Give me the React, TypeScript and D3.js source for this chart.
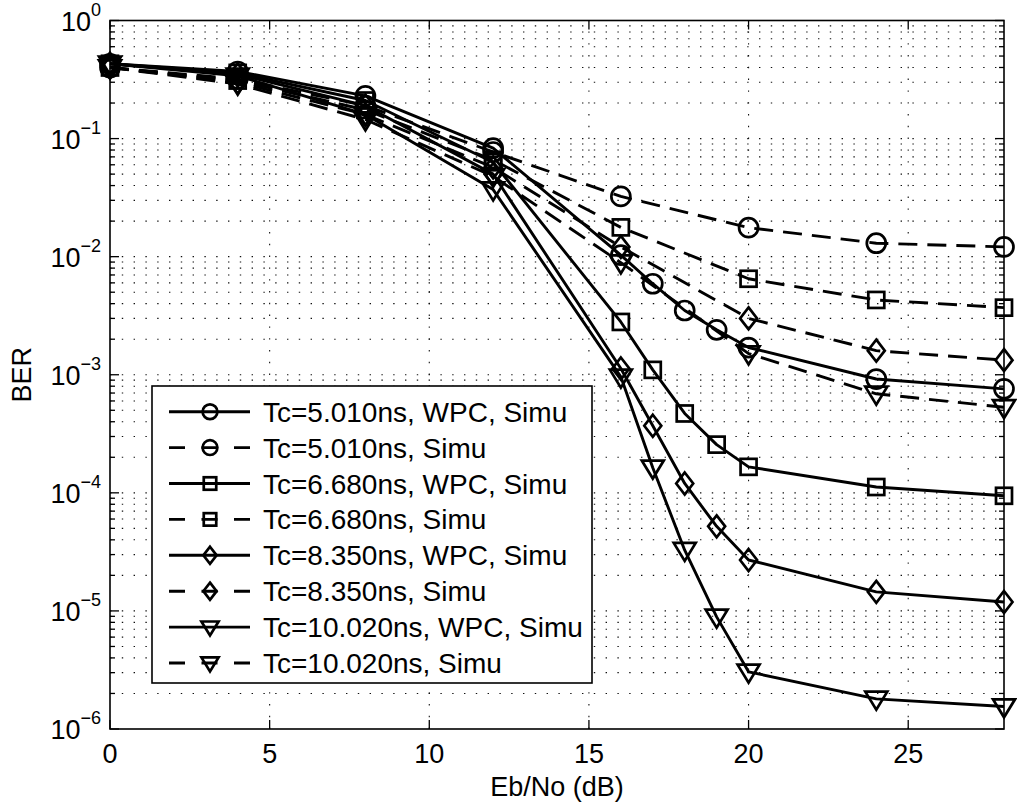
import React from "react";
import * as d3 from "d3";

const xWPC = [0, 4, 8, 12, 16, 17, 18, 19, 20, 24, 28];
const xSimu = [0, 4, 8, 12, 16, 20, 24, 28];

const wpc5010 = [0.43, 0.37, 0.23, 0.083, 0.0103, 0.0059, 0.0035, 0.0024, 0.0017, 0.00092, 0.00076];
const wpc6680 = [0.43, 0.36, 0.21, 0.063, 0.0028, 0.0011, 0.00047, 0.000256, 0.000166, 0.000112, 0.0000944];
const wpc8350 = [0.43, 0.35, 0.19, 0.05, 0.00113, 0.00037, 0.00012, 0.000052, 0.000027, 0.0000145, 0.0000119];
const wpc10020 = [0.43, 0.34, 0.16, 0.037, 0.00096, 0.000163, 0.0000327, 0.0000089, 0.00000305, 0.0000018, 0.00000155];

const simu5010 = [0.4, 0.32, 0.19, 0.077, 0.0324, 0.0176, 0.013, 0.0121];
const simu6680 = [0.4, 0.31, 0.175, 0.066, 0.0177, 0.0065, 0.0043, 0.0037];
const simu8350 = [0.4, 0.3, 0.16, 0.057, 0.0121, 0.003, 0.0016, 0.00133];
const simu10020 = [0.4, 0.29, 0.145, 0.048, 0.0089, 0.00151, 0.00069, 0.00053];

const xTicks = [0, 5, 10, 15, 20, 25];
const yExponents = [0, -1, -2, -3, -4, -5, -6];

const legendLabels = [
  "Tc=5.010ns, WPC, Simu",
  "Tc=5.010ns, Simu",
  "Tc=6.680ns, WPC, Simu",
  "Tc=6.680ns, Simu",
  "Tc=8.350ns, WPC, Simu",
  "Tc=8.350ns, Simu",
  "Tc=10.020ns, WPC, Simu",
  "Tc=10.020ns, Simu",
];

type Series = { x: number[]; y: number[]; marker: string; dashed: boolean; label: string };

const series: Series[] = [
  { x: xWPC, y: wpc5010, marker: "circle", dashed: false, label: legendLabels[0] },
  { x: xSimu, y: simu5010, marker: "circle", dashed: true, label: legendLabels[1] },
  { x: xWPC, y: wpc6680, marker: "square", dashed: false, label: legendLabels[2] },
  { x: xSimu, y: simu6680, marker: "square", dashed: true, label: legendLabels[3] },
  { x: xWPC, y: wpc8350, marker: "diamond", dashed: false, label: legendLabels[4] },
  { x: xSimu, y: simu8350, marker: "diamond", dashed: true, label: legendLabels[5] },
  { x: xWPC, y: wpc10020, marker: "triangle", dashed: false, label: legendLabels[6] },
  { x: xSimu, y: simu10020, marker: "triangle", dashed: true, label: legendLabels[7] },
];

const W = 1017;
const H = 807;
const L = 110, R = 1004, T = 20.5, B = 729;
const FONT = "'Liberation Sans', Arial, Helvetica, sans-serif";

function Marker({ type, cx, cy, s = 1 }: { type: string; cx: number; cy: number; s?: number }) {
  const sw = 2.7;
  if (type === "circle") return <circle cx={cx} cy={cy} r={9.5 * s} fill="none" stroke="#000" strokeWidth={sw} />;
  if (type === "square") {
    const h = 8 * s;
    return <rect x={cx - h} y={cy - h} width={2 * h} height={2 * h} fill="none" stroke="#000" strokeWidth={sw} />;
  }
  if (type === "diamond") {
    const w = 8.5 * s, h = 11 * s;
    return <path d={`M${cx},${cy - h}L${cx + w},${cy}L${cx},${cy + h}L${cx - w},${cy}Z`} fill="none" stroke="#000" strokeWidth={sw} />;
  }
  const w = 11 * s, h = 9 * s;
  return <path d={`M${cx - w},${cy - h * 0.8}L${cx + w},${cy - h * 0.8}L${cx},${cy + h * 1.2}Z`} fill="none" stroke="#000" strokeWidth={sw} strokeLinejoin="miter" />;
}

export default function App() {
  const x = d3.scaleLinear().domain([0, 28]).range([L, R]);
  const y = d3.scaleLog().domain([1e-6, 1]).range([B, T]);
  const line = d3.line<[number, number]>().x((d) => x(d[0])).y((d) => y(d[1]));

  const minorY: number[] = [];
  for (let e = -6; e < 0; e++) for (let m = 2; m <= 9; m++) minorY.push(m * Math.pow(10, e));
  const majorY = yExponents.map((e) => Math.pow(10, e));

  const gridStyle = { stroke: "#111", strokeWidth: 1.1, strokeDasharray: "1.4,10.4" };

  const legX = 152, legY = 386, legW = 440, legH = 297;
  const rowY = (i: number) => 411.7 + i * 35.9;

  return (
    <svg width={W} height={H} style={{ display: "block", position: "absolute", left: 0, top: 0, background: "#fff" }} fontFamily={FONT}>
      <rect x={0} y={0} width={W} height={H} fill="#fff" />
      {/* grid */}
      {[...minorY, ...majorY.slice(1, -1)].map((v, i) => (
        <line key={"gy" + i} x1={L} x2={R} y1={y(v)} y2={y(v)} {...gridStyle} />
      ))}
      {xTicks.slice(1).map((v) => (
        <line key={"gx" + v} x1={x(v)} x2={x(v)} y1={B} y2={T} {...gridStyle} />
      ))}
      {/* ticks */}
      {xTicks.map((v) => (
        <g key={"tx" + v}>
          <line x1={x(v)} x2={x(v)} y1={B} y2={B - 9} stroke="#000" strokeWidth={1.3} />
          <line x1={x(v)} x2={x(v)} y1={T} y2={T + 9} stroke="#000" strokeWidth={1.3} />
        </g>
      ))}
      {majorY.map((v, i) => (
        <g key={"ty" + i}>
          <line x1={L} x2={L + 9} y1={y(v)} y2={y(v)} stroke="#000" strokeWidth={1.3} />
          <line x1={R} x2={R - 9} y1={y(v)} y2={y(v)} stroke="#000" strokeWidth={1.3} />
        </g>
      ))}
      {minorY.map((v, i) => (
        <g key={"tm" + i}>
          <line x1={L} x2={L + 5} y1={y(v)} y2={y(v)} stroke="#000" strokeWidth={1.3} />
          <line x1={R} x2={R - 5} y1={y(v)} y2={y(v)} stroke="#000" strokeWidth={1.3} />
        </g>
      ))}
      {/* series lines */}
      {series.map((s, i) => (
        <path
          key={"l" + i}
          d={line(s.x.map((xx, j) => [xx, s.y[j]] as [number, number])) || ""}
          fill="none"
          stroke="#000"
          strokeWidth={2.9}
          strokeDasharray={s.dashed ? "19,10" : undefined}
          strokeLinejoin="round"
        />
      ))}
      {series.map((s, i) =>
        s.x.map((xx, j) => <Marker key={"m" + i + "_" + j} type={s.marker} cx={x(xx)} cy={y(s.y[j])} />)
      )}
      {/* axes frame */}
      <rect x={L} y={T} width={R - L} height={B - T} fill="none" stroke="#000" strokeWidth={1.6} />
      {/* tick labels */}
      {xTicks.map((v) => (
        <text key={"xl" + v} x={x(v)} y={763} textAnchor="middle" fontSize={27}>
          {v}
        </text>
      ))}
      {yExponents.map((e) => (
        <text key={"yl" + e} x={101} y={y(Math.pow(10, e)) + 10} textAnchor="end" fontSize={27}>
          10
          <tspan dy={-15} fontSize={18}>
            {e === 0 ? "0" : "\u2212" + Math.abs(e)}
          </tspan>
        </text>
      ))}
      <text x={(L + R) / 2} y={796} textAnchor="middle" fontSize={27}>
        Eb/No (dB)
      </text>
      <text transform={`translate(31,${(T + B) / 2}) rotate(-90)`} textAnchor="middle" fontSize={27}>
        BER
      </text>
      {/* legend */}
      <rect x={legX} y={legY} width={legW} height={legH} fill="#fff" stroke="#000" strokeWidth={1.6} />
      {series.map((s, i) => (
        <g key={"lg" + i}>
          <line
            x1={169}
            x2={250}
            y1={rowY(i)}
            y2={rowY(i)}
            stroke="#000"
            strokeWidth={2.9}
            strokeDasharray={s.dashed ? "16,16.5" : undefined}
          />
          <Marker type={s.marker} cx={210} cy={rowY(i)} s={0.78} />
          <text x={263} y={rowY(i) + 10} fontSize={28}>
            {s.label}
          </text>
        </g>
      ))}
    </svg>
  );
}
